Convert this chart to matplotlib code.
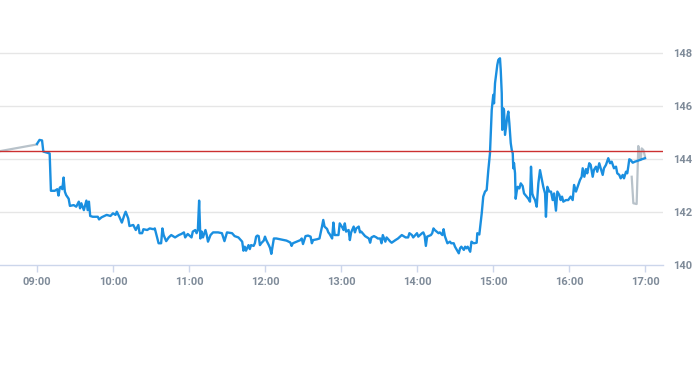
#!/usr/bin/env python3
"""Intraday price chart (session line, pre/post market, previous close)."""

import matplotlib
matplotlib.use("Agg")
import matplotlib.pyplot as plt

# minutes after 09:00 and price for the regular session
session_min = [
    0, 2, 4, 5, 10, 11, 14, 16, 17, 18, 19, 20, 21, 22, 23, 25, 26, 29, 31, 33,
    34, 35, 37, 39, 40, 41, 42, 44, 48, 49, 51, 55, 58, 60, 62, 63, 65, 67, 69, 70,
    72, 73, 76, 78, 80, 81, 83, 84, 87, 89, 92, 93, 95, 96, 98, 99, 100, 102, 104, 106,
    109, 112, 114, 116, 117, 119, 122, 123, 125, 126, 127, 128, 129, 130, 131, 133, 134, 135, 137, 139,
    143, 146, 148, 150, 154, 156, 159, 162, 163, 164, 165, 167, 168, 169, 171, 172, 173, 174, 175, 176,
    177, 179, 180, 181, 183, 184, 185, 187, 189, 192, 195, 197, 200, 201, 202, 205, 208, 209, 210, 212,
    214, 216, 217, 218, 221, 223, 225, 226, 227, 229, 230, 231, 233, 234, 235, 238, 239, 241, 242, 243,
    244, 246, 247, 248, 250, 251, 252, 254, 255, 256, 259, 262, 263, 264, 266, 268, 269, 271, 272, 273,
    275, 276, 279, 280, 283, 285, 288, 291, 293, 294, 296, 297, 300, 301, 304, 305, 306, 307, 308, 311,
    312, 313, 314, 317, 318, 320, 321, 322, 324, 326, 327, 329, 330, 333, 334, 335, 337, 338, 339, 340,
    342, 343, 344, 345, 347.1, 347.6, 349.2, 351.1, 352.3, 353.7, 355.0, 356.3, 357.6, 359.0, 360.2, 360.8, 361.6, 362.4, 363.4, 364.2,
    365.5, 366.1, 366.9, 367.3, 368.1, 368.7, 369.5, 370.3, 371.3, 372.1, 372.9, 374.0, 374.8, 375.6, 376.0, 376.6, 377.4, 377.9, 378.7, 379.5,
    380.8, 381.9, 383.4, 384.5, 386.6, 387.9, 389.2, 390.0, 391.0, 391.8, 393.2, 394.5, 395.8, 397.1, 398.4, 399.7, 401.1, 401.8, 402.9, 404.4,
    405.8, 407.1, 408.2, 409.7, 410.8, 412.4, 413.4, 414.5, 415.5, 417.6, 419.4, 421.3, 422.9, 424.0, 425.5, 427.3, 428.7, 430.0, 430.8, 432.1,
    433.4, 434.4, 436.0, 437.1, 438.7, 439.7, 441.3, 442.3, 443.9, 445.0, 446.6, 447.6, 449.2, 451.0, 452.4, 453.7, 455.5, 457.1, 458.1, 459.7,
    460.8, 462.4, 463.4, 465.0, 466.0, 466.8, 467.6, 468.7, 470.3, 472.1, 474.7, 477.4, 480.0,
]
session_px = [
    144.57, 144.72, 144.70, 144.28, 144.21, 142.80, 142.80, 142.86, 142.62, 142.92, 142.95, 142.86, 143.30, 142.77, 142.64, 142.50, 142.23, 142.26, 142.20, 142.39,
    142.14, 142.33, 142.07, 142.43, 142.07, 142.39, 141.85, 141.82, 141.82, 141.72, 141.80, 141.89, 141.85, 141.95, 141.89, 142.01, 141.82, 141.60, 141.89, 142.01,
    141.76, 141.47, 141.51, 141.32, 141.51, 141.20, 141.20, 141.35, 141.32, 141.38, 141.35, 141.38, 141.00, 140.82, 140.82, 141.38, 141.13, 140.90, 141.04, 141.13,
    141.04, 141.13, 141.17, 141.23, 141.04, 141.17, 141.04, 141.26, 141.32, 141.20, 141.32, 142.43, 141.00, 141.26, 141.04, 141.32, 141.13, 140.88, 141.13, 141.23,
    141.23, 141.20, 140.90, 141.23, 141.20, 141.09, 141.04, 140.88, 140.54, 140.69, 140.54, 140.75, 140.60, 140.75, 140.72, 140.82, 141.07, 141.11, 141.09, 140.75,
    140.82, 140.92, 141.07, 140.94, 140.75, 140.64, 140.42, 141.00, 141.00, 140.97, 140.94, 140.92, 140.85, 140.72, 140.82, 140.88, 140.94, 141.00, 140.79, 141.09,
    141.11, 141.07, 140.82, 140.94, 140.97, 141.00, 141.45, 141.70, 141.45, 141.36, 141.23, 141.17, 141.00, 141.60, 141.13, 141.13, 141.57, 141.42, 141.32, 141.57,
    141.26, 141.32, 140.94, 141.23, 141.45, 141.23, 141.38, 141.45, 141.23, 141.26, 141.09, 141.00, 140.84, 141.04, 141.09, 141.04, 141.00, 141.00, 140.82, 141.13,
    140.88, 141.04, 140.88, 140.84, 140.94, 141.00, 141.13, 141.04, 141.04, 141.20, 141.13, 141.04, 141.20, 141.07, 141.20, 141.23, 141.11, 140.72, 141.07, 141.13,
    141.20, 141.38, 141.32, 141.20, 141.23, 141.13, 141.35, 141.09, 140.82, 140.88, 140.82, 140.82, 140.69, 140.44, 140.63, 140.69, 140.57, 140.69, 140.63, 140.69,
    140.50, 140.88, 140.84, 140.82, 140.84, 141.20, 141.15, 141.95, 142.58, 142.77, 142.83, 143.58, 144.21, 145.85, 146.42, 146.10, 146.86, 147.17, 147.55, 147.74,
    147.80, 147.36, 146.48, 145.10, 145.91, 145.85, 144.91, 145.22, 145.60, 145.79, 145.35, 144.60, 144.34, 144.21, 143.65, 143.84, 143.46, 142.50, 142.77, 142.95,
    142.89, 143.08, 142.98, 142.70, 142.58, 142.50, 142.39, 143.71, 142.70, 142.58, 142.45, 142.20, 143.08, 143.58, 143.27, 142.95, 142.70, 141.82, 142.95, 142.77,
    142.77, 142.45, 142.70, 142.05, 142.77, 142.64, 142.45, 142.58, 142.39, 142.45, 142.45, 142.58, 142.45, 143.02, 142.77, 143.02, 143.21, 143.33, 143.65, 143.33,
    143.62, 143.46, 143.84, 143.78, 143.33, 143.59, 143.71, 143.52, 143.84, 143.65, 143.40, 143.65, 143.78, 144.03, 143.84, 143.90, 143.65, 143.71, 143.46, 143.40,
    143.27, 143.40, 143.27, 143.52, 143.46, 143.71, 143.99, 143.96, 143.86, 143.90, 143.94, 143.99, 144.03,
]

# pre-market and after-hours trades
pre_min = [-30, 0]
pre_px = [144.29, 144.55]
post_min = [469.5, 470.8, 473.4, 474.7, 475.5, 476.6, 477.4, 478.7, 480.0]
post_px = [143.33, 142.33, 142.30, 144.49, 144.21, 143.96, 144.40, 144.34, 144.09]

prev_close = 144.30

tick_min = [0, 60, 120, 180, 240, 300, 360, 420, 480]
tick_labels = ["09:00", "10:00", "11:00", "12:00", "13:00", "14:00", "15:00", "16:00", "17:00"]
y_ticks = [140, 142, 144, 146, 148]


def main() -> None:
    plt.rcParams["font.family"] = ["Roboto", "DejaVu Sans"]
    fig = plt.figure(figsize=(6.93, 3.65), dpi=100)
    ax = fig.add_axes([0.0, 0.274, 0.9567, 0.6534])

    grey_txt = "#7f8b99"
    ax.set_xlim(-29.2, 494.2)
    ax.set_ylim(140, 149)

    for y in y_ticks[1:]:
        ax.axhline(y, color="#e6e6e6", lw=1, zorder=0)

    ax.plot(pre_min, pre_px, color="#b8c2ca", lw=1.6, zorder=2)
    ax.plot(post_min, post_px, color="#b8c2ca", lw=1.6, zorder=2)
    ax.plot(session_min, session_px, color="#1a8fe0", lw=1.7, zorder=3,
            solid_joinstyle="round")
    ax.axhline(prev_close, color="#cc3030", lw=1, zorder=4)

    for side in ("top", "left", "right"):
        ax.spines[side].set_visible(False)
    ax.spines["bottom"].set_color("#ccd6eb")
    ax.spines["bottom"].set_linewidth(1)
    ax.set_facecolor("white")

    ax.set_xticks(tick_min)
    ax.set_xticklabels(tick_labels)
    ax.tick_params(axis="x", length=5, width=1, color="#ccd6eb", labelcolor=grey_txt,
                   labelsize=8, pad=4)
    for lbl in ax.get_xticklabels():
        lbl.set_fontweight("bold")

    ax.yaxis.tick_right()
    ax.set_yticks(y_ticks)
    ax.tick_params(axis="y", length=0, labelsize=8, pad=7.5, labelcolor=grey_txt)
    for lbl in ax.get_yticklabels():
        lbl.set_fontweight("bold")

    fig.savefig("out.png", dpi=100)


if __name__ == "__main__":
    main()
